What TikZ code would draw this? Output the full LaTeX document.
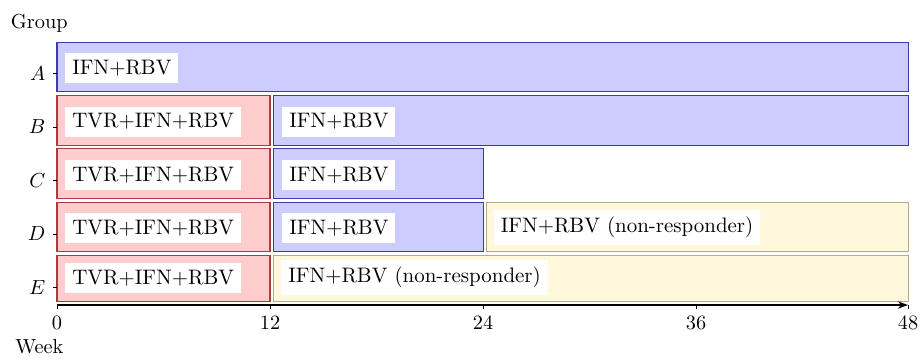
\documentclass[tikz,border=0pt]{standalone}
\usetikzlibrary{arrows.meta}
\definecolor{bfill}{RGB}{204,204,255}
\definecolor{bdraw}{RGB}{60,60,170}
\definecolor{rfill}{RGB}{255,204,204}
\definecolor{rdraw}{RGB}{170,60,60}
\definecolor{yfill}{RGB}{255,248,220}
\definecolor{ydraw}{RGB}{180,172,132}
\begin{document}
\begin{tikzpicture}[x=0.4917pt,y=-0.4917pt,
  barbox/.style={line width=0.5pt},
  bluebar/.style={barbox,fill=bfill,draw=bdraw},
  redbar/.style={barbox,fill=rfill,draw=rdraw},
  yelbar/.style={barbox,fill=yfill,draw=ydraw},
  lab/.style={fill=white,anchor=west,inner sep=3.4pt,font=\fontsize{10.3}{12.4}\selectfont},
  ylab/.style={anchor=east},
  xlab/.style={anchor=base},
  tickmark/.style={line width=0.4pt,black},
  axisline/.style={line width=1pt,-{Stealth[length=5pt,width=3.6pt]}}]
\useasboundingbox (0,0) rectangle (921,359);

% bars
\path[bluebar] (57,42.3) rectangle (908,91.7);
\path[redbar]  (57,95.5) rectangle (270,145.3);
\path[bluebar] (273.3,95.5) rectangle (908,145.3);
\path[redbar]  (57,148.9) rectangle (270,198.5);
\path[bluebar] (273.3,148.9) rectangle (483,198.5);
\path[redbar]  (57,202.3) rectangle (270,251.5);
\path[bluebar] (273.3,202.3) rectangle (483,251.5);
\path[yelbar]  (486.3,202.3) rectangle (908,251.5);
\path[redbar]  (57,255.5) rectangle (270,301.3);
\path[yelbar]  (273.3,255.5) rectangle (908,301.3);

% labels
\node[lab] (lA) at (65,67.8) {IFN+RBV};
\node[lab] (lB1) at (65,121.6) {TVR+IFN+RBV};
\node[lab] (lB2) at (282,121.6) {IFN+RBV};
\node[lab] (lC1) at (65,174.8) {TVR+IFN+RBV};
\node[lab] (lC2) at (282,174.8) {IFN+RBV};
\node[lab] (lD1) at (65,227.8) {TVR+IFN+RBV};
\node[lab] (lD2) at (282,227.8) {IFN+RBV};
\node[lab] (lD3) at (493.5,227.5) {IFN+RBV (non-responder)};
\node[lab] (lE1) at (65,278) {TVR+IFN+RBV};
\node[lab] (lE2) at (281,277.5) {IFN+RBV (non-responder)};

% y ticks and labels
\foreach \n/\yy in {A/73.5,B/127,C/180.5,D/234,E/287.5}{
  \draw[tickmark] (53,\yy) -- (57,\yy);
  \node[ylab] (y\n) at (52.5,\yy) {$\n$};
}

% x axis
\coordinate (o) at (57,305);
\coordinate (xe) at (908,305);
\draw[axisline] (o) -- (xe);
\foreach \w/\xx in {0/57,12/270,24/483,36/696,48/908}{
  \draw[tickmark] (\xx,305) -- (\xx,309);
  \node[xlab] (x\w) at (\xx,329.3) {\w};
}

\node[xlab] (grp) at (39.3,28.3) {Group};
\node[xlab] (wk) at (39.3,353) {Week};
\end{tikzpicture}
\end{document}
